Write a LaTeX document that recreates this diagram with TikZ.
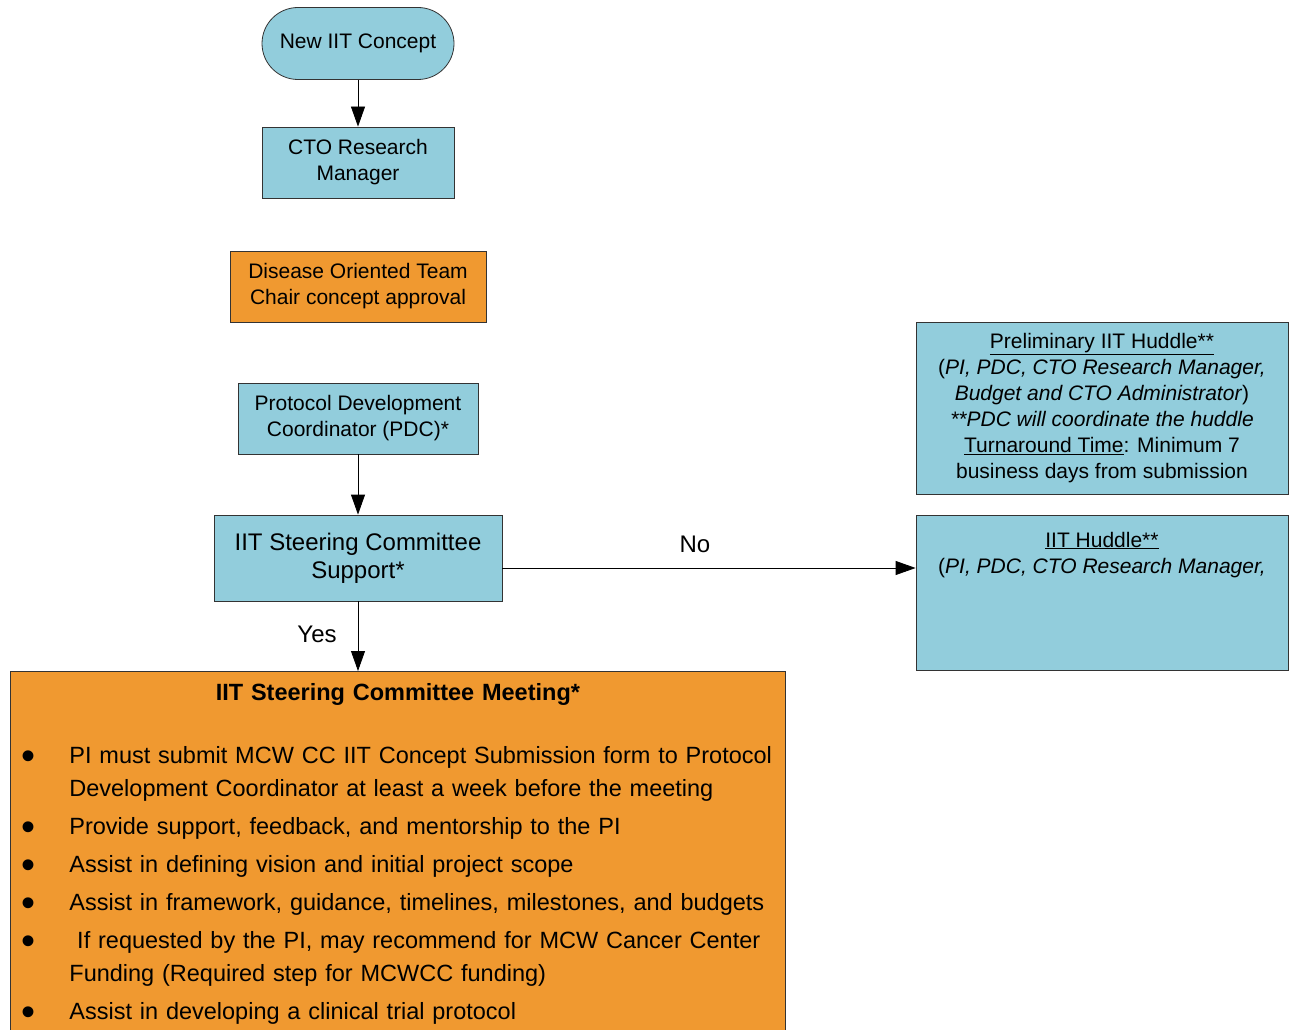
\documentclass[tikz,border=0pt]{standalone}
\usepackage{fontspec}
\setmainfont{Liberation Sans}
\usepackage{graphicx}
\usepackage{enumitem}
\usetikzlibrary{arrows.meta}
\definecolor{iitblue}{RGB}{146,205,220}
\definecolor{iitorange}{RGB}{240,153,48}
\newcommand{\bigdot}{\raisebox{-6pt}{\scalebox{1.7}{\textbullet}}}

\begin{document}
\begin{tikzpicture}[x=1pt,y=-1pt,
  bluebox/.style={draw=black!80,fill=iitblue,line width=0.8pt,align=center,inner sep=0pt,font=\fontsize{21}{26}\selectfont},
  orangebox/.style={draw=black!80,fill=iitorange,line width=0.8pt,align=center,inner sep=0pt,font=\fontsize{21}{26}\selectfont},
  flow/.style={-{Triangle[length=20pt,width=14pt]},line width=0.8pt},
  answer/.style={font=\fontsize{24}{28}\selectfont}]

  \useasboundingbox (0,0) rectangle (1291,1030);

  \node[bluebox,rounded corners=36pt,minimum width=192pt,minimum height=72pt] (concept) at (358,43.5) {New IIT Concept};
  \node[bluebox,minimum width=192pt,minimum height=71pt] (cto) at (358,162.5) {CTO Research\\Manager};
  \node[orangebox,minimum width=256pt,minimum height=71pt] (dot) at (358,286.5) {Disease Oriented Team\\Chair concept approval};
  \node[bluebox,minimum width=240pt,minimum height=71pt] (pdc) at (358,418.5) {Protocol Development\\Coordinator (PDC)*};
  \node[bluebox,minimum width=288pt,minimum height=86pt,font=\fontsize{24}{28}\selectfont] (support) at (358,558) {IIT Steering Committee\\Support*};

  \node[bluebox,minimum width=372pt,minimum height=172pt] (prelim) at (1102,408)
    {\underline{Preliminary IIT Huddle**}\\(\textit{PI, PDC, CTO Research Manager,}\\\textit{Budget and CTO Administrator})\\\textit{**PDC will coordinate the huddle}\\\underline{Turnaround Time}: Minimum 7\\business days from submission};
  \node[bluebox,minimum width=372pt,minimum height=155pt,
    label={[name=huddletext,anchor=north,align=center,inner sep=17pt,font=\fontsize{21}{26}\selectfont]north:\underline{IIT Huddle**}\\(\textit{PI, PDC, CTO Research Manager,}}] (huddle) at (1102,592.5) {};

  \node[orangebox,anchor=north west,minimum width=775pt,text width=771pt,inner xsep=2pt,inner ysep=12pt,align=left,font=\fontsize{23.5}{33}\selectfont] (meeting) at (10,671)
    {\centering\textbf{IIT Steering Committee Meeting*}\par
     \raggedright
     \begin{itemize}[label=\bigdot,align=left,labelwidth=16pt,labelsep=32pt,leftmargin=57pt,topsep=28pt,itemsep=5pt,parsep=0pt]
       \raggedright
       \item PI must submit MCW CC IIT Concept Submission form to Protocol\newline Development Coordinator at least a week before the meeting
       \item Provide support, feedback, and mentorship to the PI
       \item Assist in defining vision and initial project scope
       \item Assist in framework, guidance, timelines, milestones, and budgets
       \item \ If requested by the PI, may recommend for MCW Cancer Center\newline Funding (Required step for MCWCC funding)
       \item Assist in developing a clinical trial protocol
     \end{itemize}
     \vspace*{20pt}};

  \coordinate (nostart) at ([yshift=-10pt]support.east);
  \node[answer] (no) at (695,544) {No};
  \node[answer] (yes) at (317,634) {Yes};

  \draw[flow] (concept) -- (cto);
  \draw[flow] (pdc) -- (support);
  \draw[flow] (support.south) -- (support.south |- meeting.north);
  \draw[flow] (nostart) -- (nostart -| huddle.west);

\end{tikzpicture}
\end{document}
